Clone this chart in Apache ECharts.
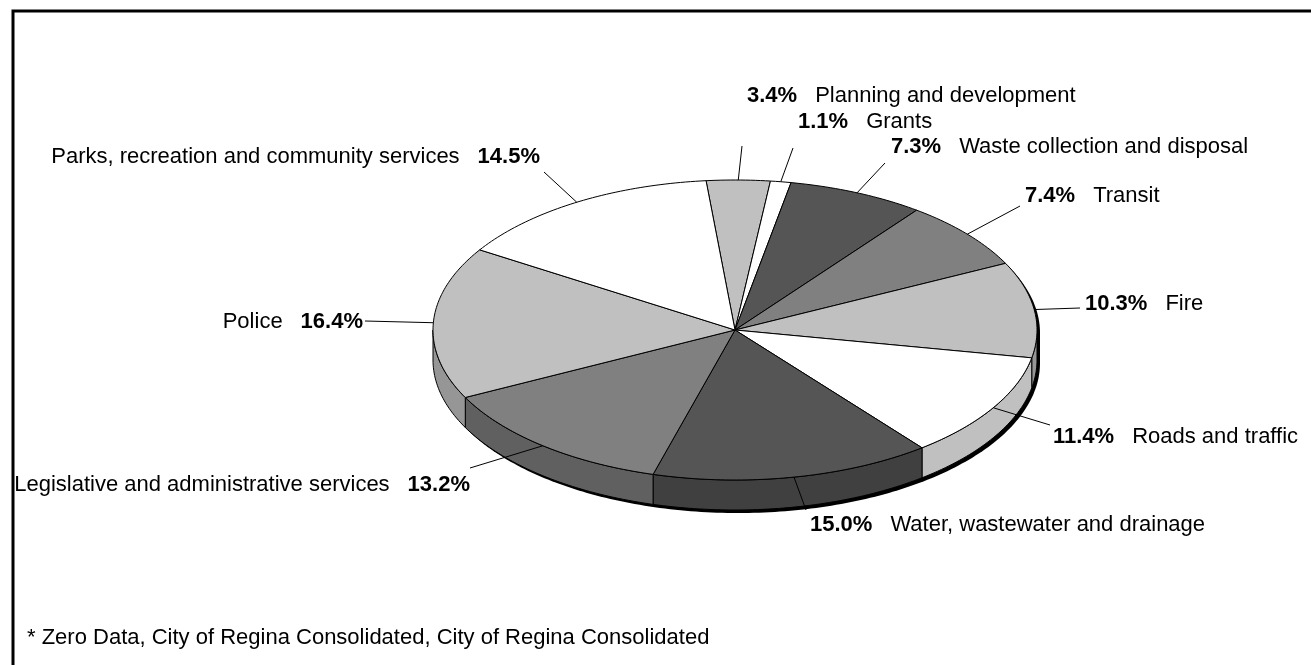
<!DOCTYPE html>
<html>
<head>
<meta charset="utf-8">
<title>Expenses by function</title>
<script src="https://cdn.jsdelivr.net/npm/echarts@6/dist/echarts.min.js"></script>
<style>
  html, body { margin: 0; padding: 0; background: #ffffff; }
  #chart { width: 1311px; height: 665px; }
</style>
</head>
<body>
<div id="chart"></div>
<script>
// ---- data ----
const categories = [
  'Planning and development',
  'Grants',
  'Waste collection and disposal',
  'Transit',
  'Fire',
  'Roads and traffic',
  'Water, wastewater and drainage',
  'Legislative and administrative services',
  'Police',
  'Parks, recreation and community services'
];
const shares = [3.4, 1.1, 7.3, 7.4, 10.3, 11.4, 15.0, 13.2, 16.4, 14.5];
const footnote = '* Zero Data, City of Regina Consolidated, City of Regina Consolidated';

// ---- styles ----
const FONT = "'Liberation Sans', Arial, Helvetica, sans-serif";
const faceColors = ['#c0c0c0', '#ffffff', '#555555', '#808080'];   // top faces, cycled
const wallColors = ['#969696', '#c0c0c0', '#404040', '#606060'];   // matching side walls

// tilted pie: ellipse of the top face, wall depth, angle of first slice (deg, clockwise from 12 o'clock)
const PIE = { cx: 735, cy: 330, rx: 302, ry: 150, depth: 30, startDeg: -5.5, shadow: [3, 3] };

// label placement: where the leader line ends and where the text sits
const labelLayout = [
  { end: [742, 146], at: [747, 96],  side: 'right' },
  { end: [793, 148], at: [798, 122], side: 'right' },
  { end: [885, 163], at: [891, 147], side: 'right' },
  { end: [1020, 206], at: [1025, 196], side: 'right' },
  { end: [1080, 308], at: [1085, 304], side: 'right' },
  { end: [1050, 425], at: [1053, 437], side: 'right' },
  { end: [806, 510], at: [810, 525], side: 'right' },
  { end: [470, 468], at: [470, 485], side: 'left' },
  { end: [365, 321], at: [363, 322], side: 'left' },
  { end: [544, 172], at: [540, 157], side: 'left' }
];

// ---- geometry helpers ----
const total = shares.reduce((a, b) => a + b, 0);
const starts = [];
shares.reduce((acc, v) => { starts.push(acc); return acc + v; }, 0);
const sliceData = shares.map((v, i) => ({ name: categories[i], value: [v, starts[i]] }));

function angleOf(share) {
  return (PIE.startDeg + share / total * 360) * Math.PI / 180;
}
function rim(t, dx, dy) {
  return [PIE.cx + PIE.rx * Math.sin(t) + (dx || 0), PIE.cy - PIE.ry * Math.cos(t) + (dy || 0)];
}
function arc(a0, a1, dx, dy) {
  const n = Math.max(2, Math.ceil(Math.abs(a1 - a0) / (Math.PI / 180)));
  const pts = [];
  for (let i = 0; i <= n; i++) pts.push(rim(a0 + (a1 - a0) * i / n, dx, dy));
  return pts;
}

// ---- render functions ----
function renderShadow() {
  const [sx, sy] = PIE.shadow;
  // silhouette of the whole disc, offset down-right
  const upper = arc(-Math.PI / 2, Math.PI / 2, sx, sy);
  const lower = arc(Math.PI / 2, 3 * Math.PI / 2, sx, sy + PIE.depth);
  return {
    type: 'polygon',
    shape: { points: upper.concat(lower) },
    style: { fill: '#000000', stroke: null }
  };
}

function renderWall(params, api) {
  const a0 = angleOf(api.value(1));
  const a1 = angleOf(api.value(1) + api.value(0));
  const lo = Math.max(a0, Math.PI / 2);
  const hi = Math.min(a1, 3 * Math.PI / 2);
  if (hi <= lo) return null;
  const top = arc(lo, hi, 0, 0);
  const bottom = arc(lo, hi, 0, PIE.depth).reverse();
  return {
    type: 'polygon',
    shape: { points: top.concat(bottom) },
    style: { fill: wallColors[params.dataIndex % 4], stroke: '#000000', lineWidth: 1, lineJoin: 'round' }
  };
}

function renderFace(params, api) {
  const a0 = angleOf(api.value(1));
  const a1 = angleOf(api.value(1) + api.value(0));
  return {
    type: 'polygon',
    shape: { points: [[PIE.cx, PIE.cy]].concat(arc(a0, a1, 0, 0)) },
    style: { fill: faceColors[params.dataIndex % 4], stroke: '#000000', lineWidth: 1, lineJoin: 'round' }
  };
}

function renderLabel(params, api) {
  const i = params.dataIndex;
  const v = api.value(0);
  const mid = angleOf(api.value(1) + v / 2);
  const from = rim(mid, 0, 0);
  const lay = labelLayout[i];
  const pct = v.toFixed(1) + '%';
  const right = lay.side === 'right';
  return {
    type: 'group',
    children: [
      {
        type: 'line',
        shape: { x1: from[0], y1: from[1], x2: lay.end[0], y2: lay.end[1] },
        style: { stroke: '#000000', lineWidth: 1 }
      },
      {
        type: 'text',
        style: {
          x: lay.at[0],
          y: lay.at[1],
          text: right ? '{p|' + pct + '}{n|' + categories[i] + '}'
                      : '{n|' + categories[i] + '}{p|' + pct + '}',
          align: right ? 'left' : 'right',
          verticalAlign: 'middle',
          fill: '#000000',
          font: '22px ' + FONT,
          rich: {
            p: { fontFamily: FONT, fontSize: 22, fontWeight: 'bold', fill: '#000000',
                 padding: right ? [0, 18, 0, 0] : [0, 0, 0, 0] },
            n: { fontFamily: FONT, fontSize: 22, fontWeight: 'normal', fill: '#000000',
                 padding: right ? [0, 0, 0, 0] : [0, 18, 0, 0] }
          }
        }
      }
    ]
  };
}

// ---- chart ----
const chart = echarts.init(document.getElementById('chart'), null, { renderer: 'canvas' });
chart.setOption({
  animation: false,
  backgroundColor: '#ffffff',
  title: {
    text: footnote,
    left: 27,
    top: 627,
    padding: 0,
    textStyle: { fontFamily: FONT, fontSize: 22, fontWeight: 'normal', color: '#000000', lineHeight: 22 }
  },
  graphic: [
    {
      type: 'rect',
      shape: { x: 13, y: 11, width: 1400, height: 700 },
      style: { fill: 'none', stroke: '#000000', lineWidth: 3 },
      silent: true
    }
  ],
  series: [
    { type: 'custom', name: 'shadow', coordinateSystem: 'none', silent: true, z: 1,
      data: [[total]], renderItem: renderShadow },
    { type: 'custom', name: 'walls', coordinateSystem: 'none', silent: true, z: 2,
      data: sliceData, renderItem: renderWall },
    { type: 'custom', name: 'faces', coordinateSystem: 'none', silent: true, z: 3,
      data: sliceData, renderItem: renderFace },
    { type: 'custom', name: 'labels', coordinateSystem: 'none', silent: true, z: 4,
      data: sliceData, renderItem: renderLabel }
  ]
});
</script>
</body>
</html>
